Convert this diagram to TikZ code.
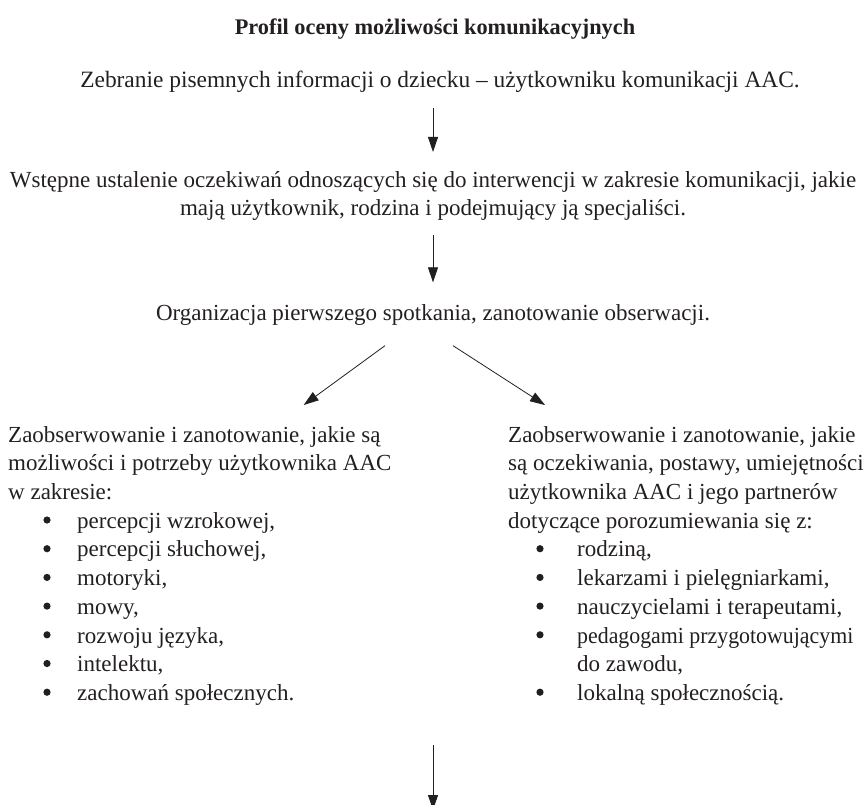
\documentclass[tikz,border=0pt]{standalone}
\usepackage{fontspec}
\setmainfont{Liberation Serif}
\usetikzlibrary{arrows.meta}
\definecolor{ink}{HTML}{231F20}
\newcommand{\bodyfont}{\fontsize{23}{28.7}\selectfont}
\newcommand{\bul}{\hspace*{69pt}}
\tikzset{
  txt/.style={inner sep=0pt, text=ink, font=\bodyfont},
  blk/.style={txt, align=left, anchor=north west},
  dot/.style={fill=ink},
  arr/.style={draw=ink, line width=0.8pt, -{Triangle[length=15pt,width=10pt]}}
}
\begin{document}
\begin{tikzpicture}[x=1pt,y=-1pt]
\useasboundingbox (0,0) rectangle (866,804);
\node[txt, font=\fontsize{22.3}{26}\selectfont\bfseries] (title) at (435,29) {Profil oceny możliwości komunikacyjnych};
\node[txt, font=\fontsize{23.4}{28.7}\selectfont] (n1) at (440,82) {Zebranie pisemnych informacji o dziecku – użytkowniku komunikacji AAC.};
\node[txt, align=center] (n2) at (433,196) {Wstępne ustalenie oczekiwań odnoszących się do interwencji w zakresie komunikacji, jakie\\ mają użytkownik, rodzina i podejmujący ją specjaliści.};
\node[txt] (n3) at (433,315) {Organizacja pierwszego spotkania, zanotowanie obserwacji.};
\node[blk] (L) at (8,426) {Zaobserwowanie i zanotowanie, jakie są\\
możliwości i potrzeby użytkownika AAC\\
w zakresie:\\
\bul percepcji wzrokowej,\\
\bul percepcji słuchowej,\\
\bul motoryki,\\
\bul mowy,\\
\bul rozwoju języka,\\
\bul intelektu,\\
\bul zachowań społecznych.};
\node[blk] (R) at (508,426) {Zaobserwowanie i zanotowanie, jakie\\
są oczekiwania, postawy, umiejętności\\
użytkownika AAC i jego partnerów\\
dotyczące porozumiewania się z:\\
\bul rodziną,\\
\bul lekarzami i pielęgniarkami,\\
\bul nauczycielami i terapeutami,\\
\bul \scalebox{0.95}[1]{pedagogami przygotowującymi}\\
\bul do zawodu,\\
\bul lokalną społecznością.};
\foreach \k in {0,...,6}
  \fill[dot] ([xshift=39pt,yshift=-94pt-28.7pt*\k]L.north west) circle (3.6pt);
\foreach \k in {1,2,3,4,6}
  \fill[dot] ([xshift=32pt,yshift=-94pt-28.7pt*\k]R.north west) circle (3.6pt);
\coordinate (b1) at (433,745);
\coordinate (b2) at (433,810);
\draw[arr, shorten <=15pt, shorten >=19pt] (n1.south -| n2) -- (n2);
\draw[arr, shorten <=14pt, shorten >=22pt] (n2) -- (n3);
\draw[arr] ([xshift=-48pt,yshift=-20pt]n3.south) -- ([xshift=-88pt,yshift=21pt]L.north east);
\draw[arr] ([xshift=20pt,yshift=-20pt]n3.south) -- ([xshift=37pt,yshift=21pt]R.north west);
\draw[arr] (b1) -- (b2);
\end{tikzpicture}
\end{document}
